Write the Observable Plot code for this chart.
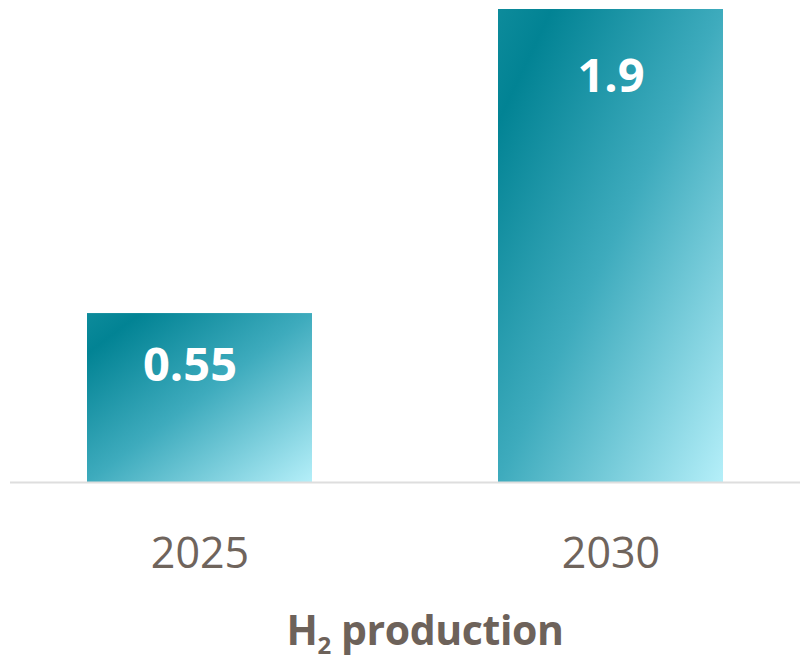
<!DOCTYPE html>
<html>
<head>
<meta charset="utf-8">
<script src="https://cdn.jsdelivr.net/npm/d3@7"></script>
<script src="https://cdn.jsdelivr.net/npm/@observablehq/plot@0.6"></script>
<style>
  body { margin: 0; background: #fff; }
  #wrap { position: relative; width: 804px; height: 660px; overflow: hidden; }
  #title { position: absolute; left: 0; top: 603px; width: 804px; padding-left: 46px; box-sizing: border-box;
    text-align: center; font-family: "Open Sans", sans-serif; font-weight: 700; font-size: 41px; line-height: 1.3;
    letter-spacing: -0.4px; color: #6d625a; }
  #title sub { display: inline-block; font-size: 24px; line-height: 18px; height: 18px; vertical-align: -9px; }
</style>
</head>
<body>
<div id="wrap"><div id="chart"></div><div id="title">H<sub>2</sub> production</div></div>
<script>
const years = ["2025", "2030"];
const values = [0.55, 1.9];
const valueLabels = ["0.55", "1.9"];
const axisMin = -0.2;

const data = years.map((y, i) => ({year: y, value: values[i], label: valueLabels[i]}));

const gradient = () => {
  const svg = d3.create("svg:defs");
  const g = svg.append("linearGradient").attr("id", "barGrad")
    .attr("x1", 0).attr("y1", 0).attr("x2", 1).attr("y2", 1);
  g.append("stop").attr("offset", "0").attr("stop-color", "#0d8b9b");
  g.append("stop").attr("offset", "0.12").attr("stop-color", "#028394");
  g.append("stop").attr("offset", "0.5").attr("stop-color", "#3eabbd");
  g.append("stop").attr("offset", "1").attr("stop-color", "#b5eff9");
  return svg.node();
};

const chart = Plot.plot({
  width: 804,
  height: 590,
  marginTop: 9,
  marginBottom: 108,
  marginLeft: 10,
  marginRight: 4,
  style: {fontFamily: "'Open Sans', sans-serif", background: "#fff"},
  x: {domain: years, paddingInner: 0.452, paddingOuter: 0.186, label: null},
  y: {domain: [axisMin, 1.9], axis: null},
  marks: [
    gradient,
    Plot.rectY(data, {x: "year", y1: axisMin, y2: "value", fill: "url(#barGrad)"}),
    Plot.ruleY([axisMin], {stroke: "#dedede", strokeWidth: 2}),
    Plot.axisX({tickSize: 0, tickPadding: 55, fontSize: 43, fill: "#6f645c", label: null}),
    Plot.text(data.filter((d, i) => i === 0), {x: "year", y: "value", text: "label", dy: 52, dx: -10,
      fill: "#fff", fontSize: 47, fontWeight: 700}),
    Plot.text(data.filter((d, i) => i === 1), {x: "year", y: "value", text: "label", dy: 67,
      fill: "#fff", fontSize: 47, fontWeight: 700})
  ]
});
document.getElementById("chart").appendChild(chart);
</script>
</body>
</html>
